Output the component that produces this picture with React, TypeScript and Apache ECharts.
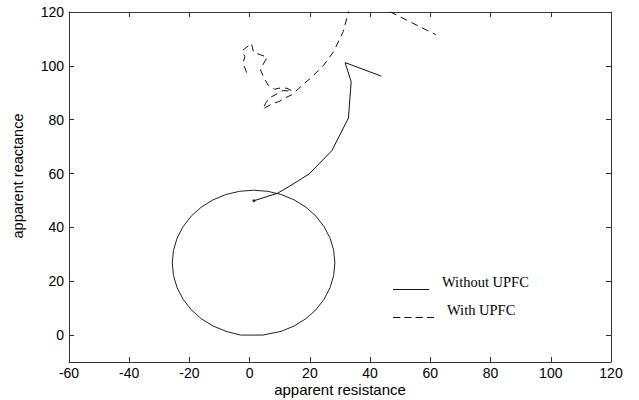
import React, { useEffect, useRef } from "react";
import * as echarts from "echarts";

// Relay characteristic circle
const circlePoints: [number, number][] = [
  [28.3, 26.8], [27.9, 31.5], [26.7, 36.0], [24.7, 40.3], [22.0, 44.2],
  [18.7, 47.5], [14.8, 50.2], [10.5, 52.2], [6.0, 53.4], [1.3, 53.8],
  [-3.4, 53.4], [-7.9, 52.2], [-12.2, 50.2], [-16.1, 47.5], [-19.4, 44.2],
  [-22.1, 40.3], [-24.1, 36.0], [-25.3, 31.5], [-25.7, 26.8], [-25.3, 22.1],
  [-24.1, 17.6], [-22.1, 13.3], [-19.4, 9.4], [-16.1, 6.1], [-12.2, 3.4],
  [-7.9, 1.4], [-3.0, 0.0], [4.4, 0.0], [10.5, 1.4], [14.8, 3.4],
  [18.7, 6.1], [22.0, 9.4], [24.7, 13.3], [26.7, 17.6], [27.9, 22.1],
  [28.3, 26.8],
];

// Apparent impedance trajectory without UPFC
const withoutUpfc: [number, number][] = [
  [1.4, 49.9], [9.3, 52.7], [13.1, 55.2], [19.7, 59.8], [27.3, 68.5],
  [32.8, 80.6], [33.7, 94.1], [31.7, 101.2], [43.7, 96.2],
];

// Apparent impedance trajectory with UPFC
const withUpfc: [number, number][] = [
  [-1.0, 97.5], [-2.2, 101.0], [-1.6, 103.4], [-2.4, 105.7], [0.6, 108.3],
  [1.3, 105.0], [3.6, 104.1], [5.8, 103.2], [4.8, 101.2], [3.6, 98.5],
  [4.8, 95.4], [6.1, 92.9], [8.3, 91.3], [9.7, 91.7], [12.4, 91.7],
  [14.2, 90.6], [11.1, 90.8], [6.4, 88.0], [5.3, 86.1], [4.4, 83.9],
  [7.7, 86.1], [9.7, 86.7], [11.6, 88.0], [13.9, 89.2], [16.0, 91.3],
  [18.3, 93.6], [20.8, 96.0], [24.6, 100.3], [27.9, 105.3], [31.1, 112.8],
  [32.8, 120.0], [34.0, 124.0], [40.0, 127.0], [45.0, 121.0], [53.5, 116.2],
  [61.8, 111.6],
];

const legendLabels = ["Without UPFC", "With UPFC"];
const xAxisName = "apparent resistance";
const yAxisName = "apparent reactance";

const sansFont = "'Liberation Sans', Arial, Helvetica, sans-serif";
const serifFont = "'Liberation Serif', 'Times New Roman', serif";

export default function App() {
  const ref = useRef<HTMLDivElement>(null);

  useEffect(() => {
    if (!ref.current) return;
    const chart = echarts.init(ref.current, undefined, { renderer: "svg" });

    const axisLine = { show: true, onZero: false, lineStyle: { color: "#333", width: 1 } };
    const axisTick = { show: true, inside: true, length: 5, lineStyle: { color: "#333", width: 1 } };
    const labelStyle = { color: "#000", fontSize: 14, fontFamily: sansFont };

    const option: any = {
      animation: false,
      backgroundColor: "#fff",
      grid: {
        left: 69, top: 12, right: 28, bottom: 38,
        containLabel: false, outerBoundsMode: "none",
      },
      xAxis: [
        {
          type: "value", min: -60, max: 120, interval: 20, position: "bottom",
          axisLine, axisTick,
          axisLabel: { ...labelStyle, margin: 4 },
          splitLine: { show: false },
        },
        {
          type: "value", min: -60, max: 120, interval: 20, position: "top",
          axisLine, axisTick, axisLabel: { show: false }, splitLine: { show: false },
        },
      ],
      yAxis: [
        {
          type: "value", min: -10, max: 120, splitNumber: 7, position: "left",
          axisLine, axisTick,
          axisLabel: {
            ...labelStyle, margin: 5, showMinLabel: false,
            formatter: (v: number) => (v === -10 ? "" : String(v)),
          },
          splitLine: { show: false },
        },
        {
          type: "value", min: -10, max: 120, splitNumber: 7, position: "right",
          axisLine, axisTick, axisLabel: { show: false }, splitLine: { show: false },
        },
      ],
      series: [
        {
          type: "line", data: circlePoints, symbol: "none", silent: true,
          lineStyle: { color: "#222", width: 1 },
        },
        {
          type: "line", data: withoutUpfc, symbol: "none", silent: true,
          lineStyle: { color: "#111", width: 1 },
        },
        {
          type: "scatter", data: [withoutUpfc[0]], symbol: "circle", symbolSize: 3,
          itemStyle: { color: "#000" }, silent: true,
        },
        {
          type: "line", data: withUpfc, symbol: "none", silent: true,
          lineStyle: { color: "#111", width: 1, type: [7, 5] },
        },
      ],
      graphic: [
        {
          type: "text", x: 340, y: 389.5,
          style: {
            text: xAxisName, fill: "#000", font: `15px ${sansFont}`,
            align: "center", verticalAlign: "middle",
          },
        },
        {
          type: "text", x: 18, y: 176, rotation: Math.PI / 2,
          style: {
            text: yAxisName, fill: "#000", font: `14.5px ${sansFont}`,
            align: "center", verticalAlign: "middle",
          },
        },
        {
          type: "line",
          shape: { x1: 393, y1: 289.5, x2: 429, y2: 289.5 },
          style: { stroke: "#111", lineWidth: 1 },
        },
        {
          type: "text", x: 442, y: 282,
          style: {
            text: legendLabels[0], fill: "#000", font: `14.5px ${serifFont}`,
            align: "left", verticalAlign: "middle",
          },
        },
        {
          type: "line",
          shape: { x1: 393, y1: 317.5, x2: 434, y2: 317.5 },
          style: { stroke: "#111", lineWidth: 1, lineDash: [7.3, 4] },
        },
        {
          type: "text", x: 447, y: 309.5,
          style: {
            text: legendLabels[1], fill: "#000", font: `14.5px ${serifFont}`,
            align: "left", verticalAlign: "middle",
          },
        },
      ],
    };

    chart.setOption(option);
    return () => chart.dispose();
  }, []);

  return (
    <div
      ref={ref}
      style={{ position: "fixed", left: 0, top: 0, width: 639, height: 400, background: "#fff" }}
    />
  );
}
